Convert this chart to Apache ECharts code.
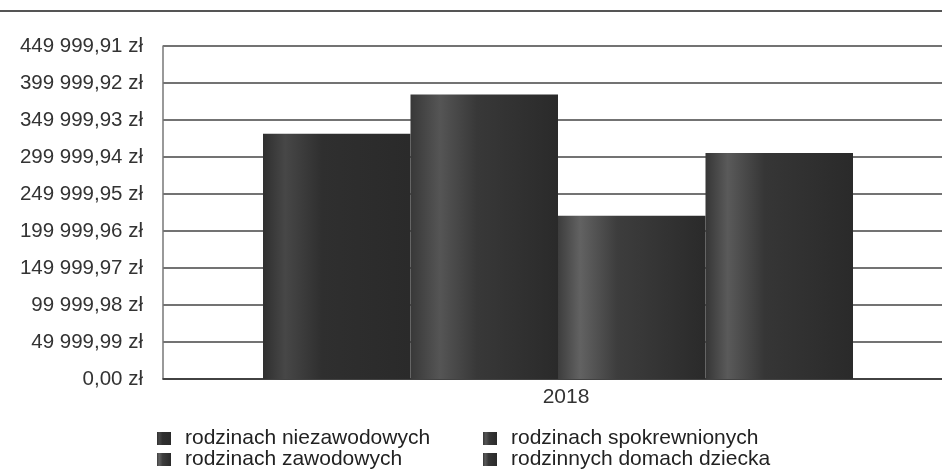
<!DOCTYPE html>
<html>
<head>
<meta charset="utf-8">
<script src="https://cdn.jsdelivr.net/npm/echarts@6/dist/echarts.min.js"></script>
<style>
  html, body { margin: 0; padding: 0; background: #fff; }
  #chart { width: 942px; height: 470px; }
</style>
</head>
<body>
<div id="chart"></div>
<script>
const categories = ["2018"];
const seriesNames = [
  "rodzinach niezawodowych",
  "rodzinach spokrewnionych",
  "rodzinach zawodowych",
  "rodzinnych domach dziecka",
];
const seriesValues = [331500, 384500, 220500, 305400];
const yTickLabels = [
  "0,00 zł", "49 999,99 zł", "99 999,98 zł", "149 999,97 zł", "199 999,96 zł",
  "249 999,95 zł", "299 999,94 zł", "349 999,93 zł", "399 999,92 zł", "449 999,91 zł",
];
const yStep = 49999.99;

const font = "Liberation Sans, Arial, sans-serif";

// soft shaded greys, like the scanned print
function shade(base, light, pos) {
  return new echarts.graphic.LinearGradient(0, 0, 1, 0, [
    { offset: 0, color: base },
    { offset: pos, color: light },
    { offset: pos + 0.25, color: base },
    { offset: 1, color: "#2a2a2a" },
  ]);
}
const barColors = [
  shade("#2f2f2f", "#474747", 0.15),
  shade("#383838", "#555555", 0.2),
  shade("#3d3d3d", "#626262", 0.15),
  shade("#363636", "#5a5a5a", 0.15),
];

const chart = echarts.init(document.getElementById("chart"));

const series = seriesNames.map((name, i) => ({
  name: name,
  type: "bar",
  data: [seriesValues[i]],
  barWidth: 147.5,
  barGap: "0%",
  itemStyle: { color: barColors[i] },
}));

const legendText = { fontFamily: font, fontSize: 21, lineHeight: 21, color: "#222", padding: [0, 0, 0, 9] };

function legendCol(left, names) {
  return {
    orient: "vertical",
    left: left,
    top: 428,
    padding: 0,
    itemWidth: 14,
    itemHeight: 13,
    itemGap: 0,
    icon: "rect",
    data: names,
    textStyle: legendText,
  };
}

chart.setOption({
  animation: false,
  grid: { left: 163, top: 46, bottom: 91, width: 790, outerBoundsMode: "none", containLabel: false },
  graphic: [
    {
      type: "line",
      shape: { x1: 0, y1: 11, x2: 942, y2: 11 },
      style: { stroke: "#555", lineWidth: 2 },
    },
  ],
  legend: [
    legendCol(157, [seriesNames[0], seriesNames[2]]),
    legendCol(483, [seriesNames[1], seriesNames[3]]),
  ],
  xAxis: {
    type: "category",
    data: categories,
    axisLine: { lineStyle: { color: "#333", width: 1.5 } },
    axisTick: { show: false },
    axisLabel: { fontFamily: font, fontSize: 21, color: "#333", margin: 8, padding: [0, 0, 0, 16] },
  },
  yAxis: {
    type: "value",
    min: 0,
    max: yStep * 9,
    interval: yStep,
    axisLine: { show: true, lineStyle: { color: "#777", width: 1.5 } },
    axisTick: { show: false },
    axisLabel: {
      fontFamily: font,
      fontSize: 20.5,
      color: "#333",
      margin: 20,
      formatter: (v) => yTickLabels[Math.round(v / yStep)],
    },
    splitLine: { lineStyle: { color: "#444", width: 1.5 } },
  },
  series: series,
});
</script>
</body>
</html>
